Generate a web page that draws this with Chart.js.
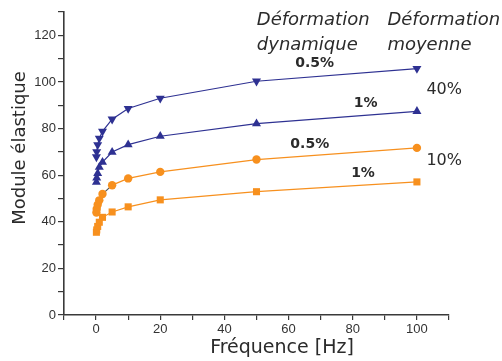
<!DOCTYPE html>
<html>
<head>
<meta charset="utf-8">
<script src="https://cdn.jsdelivr.net/npm/chart.js@4/dist/chart.umd.min.js"></script>
<style>
html,body{margin:0;padding:0;background:#fff;}
#wrap{width:502px;height:361px;position:relative;}
</style>
</head>
<body>
<div id="wrap"><canvas id="c" width="502" height="361"></canvas></div>
<script>
// frequences (Hz) and module values
const freqs=[0.1,0.2,0.5,1,2,5,10,20,50,100];
const mod40_05=[67.8,70,73,75.8,78.8,84,88.6,93,100.3,105.7];
const mod40_1=[57,58.8,60.7,63.4,65.6,69.9,73.1,76.7,82.1,87.4];
const mod10_05=[44,45.5,47.3,49.2,51.9,55.7,58.6,61.4,66.7,71.7];
const mod10_1=[35.5,36.5,38,39.8,41.9,44.2,46.4,49.4,52.9,57.1];
const dynLabels=['0.5%','1%','0.5%','1%'];
const meanLabels=['40%','10%'];
const headDyn=['Déformation','dynamique'];
const headMean=['Déformation','moyenne'];
const xTitle='Fréquence [Hz]';
const yTitle='Module élastique';

const NAVY='#2e3192',ORANGE='#f7901e',AXIS='#3a3a3a';
const pts=arr=>freqs.map((f,i)=>({x:f,y:arr[i]}));

function ds(arr,color,style,rot,r){
  return {data:pts(arr),borderColor:color,backgroundColor:color,borderWidth:1.2,
    pointStyle:style,rotation:rot,pointRadius:r,pointHoverRadius:r,pointBorderWidth:0,tension:0};
}
const d3=ds(mod10_05,ORANGE,'circle',0,4.2);
// low-frequency segments of this curve are drawn dark in the original
d3.segment={borderColor:c=>c.p1.parsed.x<=5?'#555':undefined};

const annot={
  id:'annot',
  afterDraw(chart){
    const {ctx,scales:{x,y},chartArea:a}=chart;
    ctx.save();
    ctx.fillStyle='#2b2b2b';
    ctx.textBaseline='middle';
    ctx.font='italic 18px "DejaVu Sans"';
    ctx.textAlign='left';
    headDyn.forEach((t,i)=>ctx.fillText(t,x.getPixelForValue(50.1),y.getPixelForValue(126.4-i*10.5)));
    headMean.forEach((t,i)=>ctx.fillText(t,x.getPixelForValue(90.8),y.getPixelForValue(126.4-i*10.5)));
    ctx.textAlign='center';
    ctx.font='bold 14px "DejaVu Sans"';
    const dp=[[68.1,108],[84,90.9],[66.6,73.3],[83.2,60.9]];
    dynLabels.forEach((t,i)=>ctx.fillText(t,x.getPixelForValue(dp[i][0]),y.getPixelForValue(dp[i][1])));
    ctx.font='16px "DejaVu Sans"';
    const mp=[[108.5,96.4],[108.5,66]];
    meanLabels.forEach((t,i)=>ctx.fillText(t,x.getPixelForValue(mp[i][0]),y.getPixelForValue(mp[i][1])));
    // axis titles
    ctx.font='19px "DejaVu Sans"';
    ctx.fillText(xTitle,a.left+218,a.bottom+33);
    ctx.save();
    ctx.translate(20,a.top+136);
    ctx.rotate(-Math.PI/2);
    ctx.font='18px "DejaVu Sans"';
    ctx.fillText(yTitle,0,0);
    ctx.restore();
    ctx.restore();
  }
};

const tickFont={family:'"Liberation Sans", Arial, sans-serif',size:13};
new Chart(document.getElementById('c'),{
  type:'line',
  data:{datasets:[
    ds(mod40_05,NAVY,'triangle',180,5.2),
    ds(mod40_1,NAVY,'triangle',0,5.2),
    d3,
    ds(mod10_1,ORANGE,'rect',0,5)
  ]},
  options:{
    responsive:false,animation:false,
    layout:{padding:{top:12,right:53,left:0,bottom:0}},
    plugins:{legend:{display:false},tooltip:{enabled:false}},
    scales:{
      x:{type:'linear',min:-10,max:110,
        grid:{drawOnChartArea:false,tickLength:5,color:AXIS,lineWidth:1.2},
        border:{color:AXIS,width:1.6},
        ticks:{stepSize:10,autoSkip:false,maxRotation:0,padding:2,color:'#333',font:tickFont,
          callback:v=>v%20===0?v:''},
        afterFit:s=>{s.height=46;}
      },
      y:{type:'linear',min:0,max:130,
        grid:{drawOnChartArea:false,tickLength:6,color:AXIS,lineWidth:1.2},
        border:{color:AXIS,width:1.6},
        ticks:{stepSize:10,autoSkip:false,padding:2,color:'#333',font:tickFont,
          callback:v=>v%20===0?v:''},
        afterFit:s=>{s.width=64;}
      }
    }
  },
  plugins:[annot]
});
</script>
</body>
</html>
